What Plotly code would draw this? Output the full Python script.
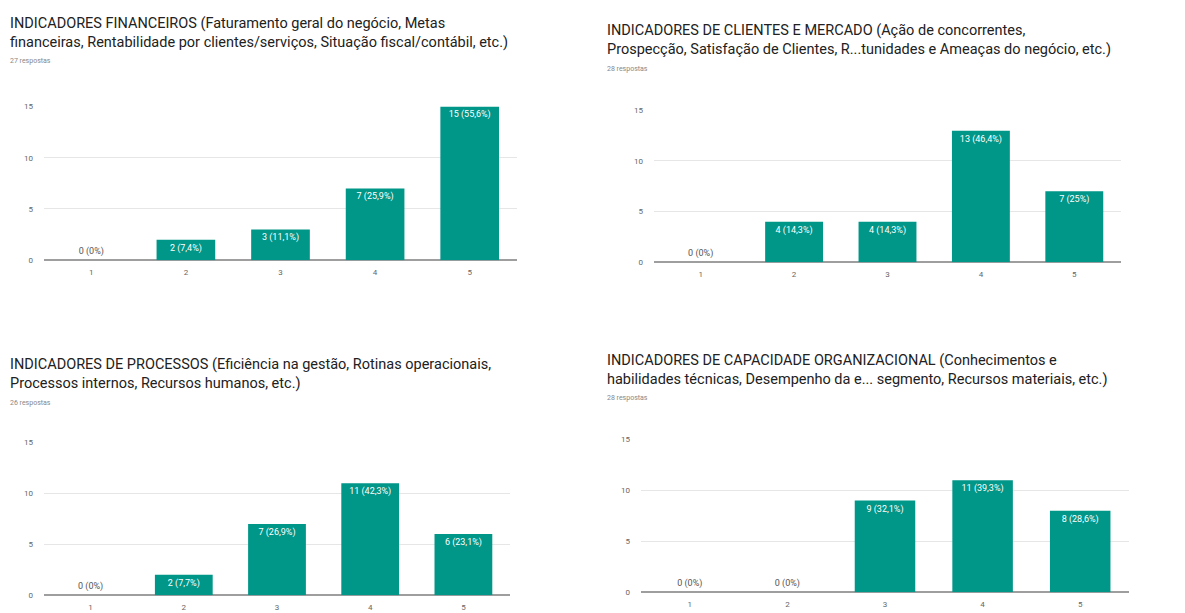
import plotly.graph_objects as go

W, H = 1185, 613

categories = ["1", "2", "3", "4", "5"]

titles = [
    "INDICADORES FINANCEIROS (Faturamento geral do negócio, Metas<br>financeiras, Rentabilidade por clientes/serviços, Situação fiscal/contábil, etc.)",
    "INDICADORES DE CLIENTES E MERCADO (Ação de concorrentes,<br>Prospecção, Satisfação de Clientes, R...tunidades e Ameaças do negócio, etc.)",
    "INDICADORES DE PROCESSOS (Eficiência na gestão, Rotinas operacionais,<br>Processos internos, Recursos humanos, etc.)",
    "INDICADORES DE CAPACIDADE ORGANIZACIONAL (Conhecimentos e<br>habilidades técnicas, Desempenho da e... segmento, Recursos materiais, etc.)",
]
responses = [27, 28, 26, 28]

values_financeiros = [0, 2, 3, 7, 15]
values_clientes = [0, 4, 4, 13, 7]
values_processos = [0, 2, 7, 11, 6]
values_capacidade = [0, 0, 9, 11, 8]
all_values = [values_financeiros, values_clientes, values_processos, values_capacidade]

y_ticks = [0, 5, 10, 15]

# layout geometry in pixels: (x0, x1, y_top(15), y_bottom(0), title_x, title_y, resp_y)
panels = [
    (44, 517, 104, 260, 8, 9, 58),
    (654, 1121, 108, 262, 605, 16, 66),
    (44, 510, 445, 600, 8, 355, 405),
    (641, 1129, 442, 597, 605, 351, 400),
]

TEAL = "#009688"

def pct(v, n):
    p = round(v / n * 100, 1)
    s = ("%.1f" % p).rstrip("0").rstrip(".")
    return s.replace(".", ",")

fig = go.Figure()
for i, (vals, n, geo) in enumerate(zip(all_values, responses, panels)):
    x0, x1, yt, yb, tx, ty, ry = geo
    sfx = "" if i == 0 else str(i + 1)
    labels = ["%d (%s%%)" % (v, pct(v, n)) for v in vals]
    positions = ["outside" if v == 0 else "inside" for v in vals]
    fig.add_trace(go.Bar(
        x=categories, y=vals, text=labels, textposition=positions,
        insidetextanchor="end",
        insidetextfont=dict(color="white", size=9, family="Roboto"),
        outsidetextfont=dict(color="#555555", size=9, family="Roboto"),
        marker=dict(color=TEAL, line=dict(width=0)),
        xaxis="x" + sfx, yaxis="y" + sfx, showlegend=False,
        cliponaxis=False,
    ))
    fig.layout["xaxis" + sfx] = dict(
        domain=[x0 / W, x1 / W], anchor="y" + sfx, type="category",
        showgrid=False, showline=False, ticks="",
        tickfont=dict(size=8, color="#666666", family="Roboto"),
        ticklabelstandoff=6, fixedrange=True,
    )
    fig.layout["yaxis" + sfx] = dict(
        domain=[1 - yb / H, 1 - yt / H], anchor="x" + sfx, range=[0, 15],
        tickvals=y_ticks, showgrid=True, gridcolor="#e6e6e6", gridwidth=1,
        zeroline=True, zerolinecolor="#9e9e9e", zerolinewidth=1.5,
        tickfont=dict(size=8, color="#666666", family="Roboto"),
        ticklabelstandoff=10, fixedrange=True,
    )
    fig.add_annotation(
        x=tx / W, y=1 - ty / H, xref="paper", yref="paper",
        xanchor="left", yanchor="top", align="left", showarrow=False,
        text=titles[i], font=dict(size=14.5, color="#212121", family="Roboto"),
    )
    fig.add_annotation(
        x=tx / W, y=1 - ry / H, xref="paper", yref="paper",
        xanchor="left", yanchor="middle", align="left", showarrow=False,
        text="%d respostas" % n, font=dict(size=7, color="#888888", family="Roboto"),
    )

fig.update_layout(
    width=W, height=H, margin=dict(l=0, r=0, t=0, b=0),
    paper_bgcolor="white", plot_bgcolor="white",
    bargap=0.38,
)

fig.write_html("out.html")
